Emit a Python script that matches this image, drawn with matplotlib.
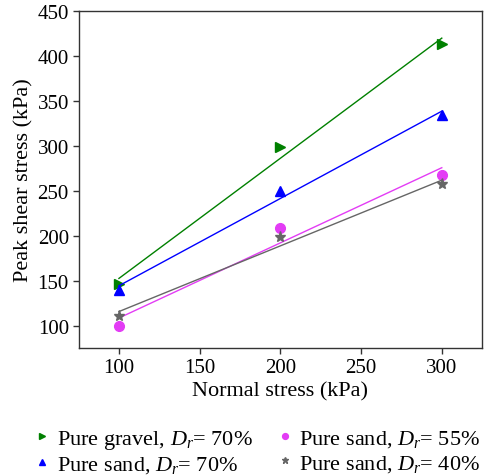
import numpy as np
import matplotlib
matplotlib.use("Agg")
import matplotlib.pyplot as plt

plt.rcParams['font.family'] = ['Liberation Serif', 'DejaVu Serif']
plt.rcParams['mathtext.fontset'] = 'custom'
plt.rcParams['mathtext.rm'] = 'Liberation Serif'
plt.rcParams['mathtext.it'] = 'Liberation Serif:italic'

normal_stress = [100, 200, 300]
gravel_70 = [146, 299, 413]
sand_70 = [140, 250, 334]
sand_55 = [100, 209, 267]
sand_40 = [111, 198, 257]

series = [
    (gravel_70, 'Pure gravel, $D_r$= 70%', '#008000', '>', 7),
    (sand_70, 'Pure sand, $D_r$= 70%', '#0000ff', '^', 7),
    (sand_55, 'Pure sand, $D_r$= 55%', '#e33cf5', 'o', 7),
    (sand_40, 'Pure sand, $D_r$= 40%', '#666666', '*', 8),
]

fig = plt.figure(figsize=(4.88, 4.77), dpi=100)
ax = fig.add_axes([0.161, 0.268, 0.827, 0.7075])

x = np.array(normal_stress, dtype=float)
handles = []
for vals, label, color, marker, ms in series:
    h, = ax.plot(x, vals, linestyle='none', marker=marker, color=color,
                 markersize=ms, label=label)
    handles.append(h)
    k, b = np.polyfit(x, vals, 1)
    xx = np.array([x[0], x[-1]])
    ax.plot(xx, k * xx + b, color=color, lw=1.0)

ax.set_xlim(75, 325)
ax.set_ylim(75, 450)
ax.set_xticks([100, 150, 200, 250, 300])
ax.set_yticks([100, 150, 200, 250, 300, 350, 400, 450])
ax.tick_params(labelsize=15, direction='out', length=4, width=1, color='#333333', pad=3)
for s in ax.spines.values():
    s.set_color('#333333')
    s.set_linewidth(1.0)
ax.set_xlabel('Normal stress (kPa)', fontsize=16, labelpad=3)
ax.set_ylabel('Peak shear stress (kPa)', fontsize=16, labelpad=3)

fig.legend(handles=handles, loc='lower center', bbox_to_anchor=(0.53, -0.04),
           ncol=2, frameon=False, fontsize=16, markerscale=0.6,
           handlelength=0.5, handletextpad=0.4, columnspacing=1.2,
           labelspacing=0.15)

fig.savefig('out.png', dpi=100)
